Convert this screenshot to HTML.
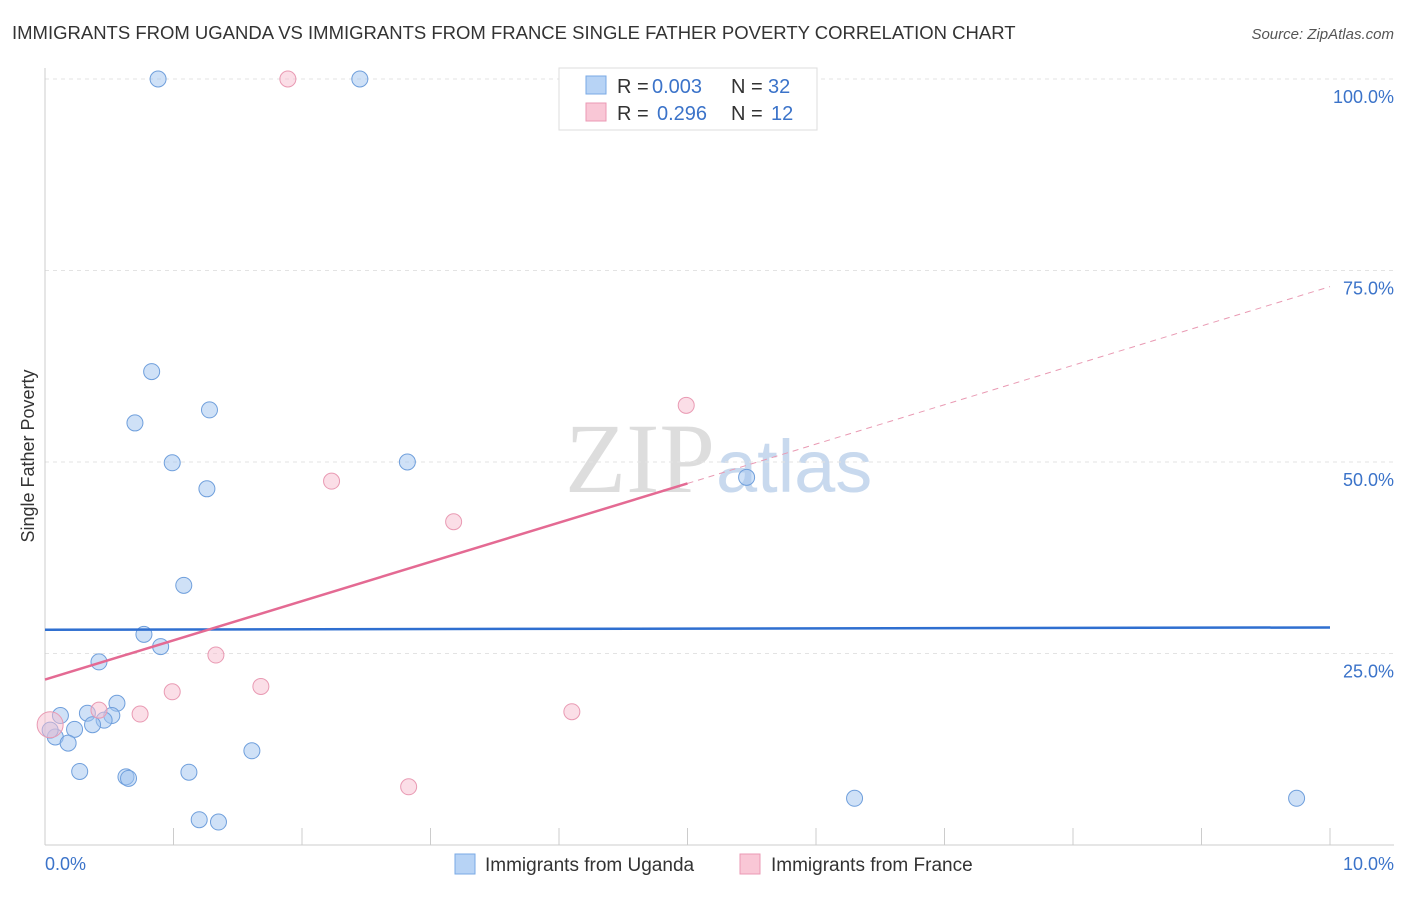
<!DOCTYPE html>
<html><head><meta charset="utf-8"><style>
body{margin:0;background:#fff;font-family:"Liberation Sans",sans-serif;}
</style></head><body>
<svg width="1406" height="892" xmlns="http://www.w3.org/2000/svg">
<text x="12" y="39" font-size="18.5" fill="#333">IMMIGRANTS FROM UGANDA VS IMMIGRANTS FROM FRANCE SINGLE FATHER POVERTY CORRELATION CHART</text>
<text x="1394" y="39" font-size="15" fill="#555" font-style="italic" text-anchor="end">Source: ZipAtlas.com</text>
<text x="715" y="492" font-size="100" fill="#ddd" text-anchor="end" font-family="Liberation Serif,serif">ZIP</text>
<text x="716" y="492" font-size="74" fill="#c8d9ee">atlas</text>
<g id="grid"></g>
<line x1="45" y1="68" x2="45" y2="845" stroke="#ccc"/>
<line x1="45" y1="845" x2="1394" y2="845" stroke="#ccc"/>
<g id="ticks"></g>
<text transform="translate(34,456) rotate(-90)" font-size="18" fill="#333" text-anchor="middle">Single Father Poverty</text>
<text x="45" y="870" font-size="18" fill="#3b73c9">0.0%</text>
<text x="1394" y="870" font-size="18" fill="#3b73c9" text-anchor="end">10.0%</text>
<g id="marks"></g>
<g>
<rect x="559" y="68" width="258" height="62" fill="#fff" stroke="#ddd"/>
<rect x="586" y="76" width="20" height="18" fill="#b7d3f5" stroke="#7aaae5"/>
<rect x="586" y="103" width="20" height="18" fill="#f9c7d6" stroke="#eb9ab4"/>
<text x="617" y="93" font-size="20" fill="#333">R = <tspan fill="#3b73c9" x="652">0.003</tspan><tspan x="731">N = </tspan><tspan fill="#3b73c9" x="768">32</tspan></text>
<text x="617" y="120" font-size="20" fill="#333">R = <tspan fill="#3b73c9" x="657">0.296</tspan><tspan x="731">N = </tspan><tspan fill="#3b73c9" x="771">12</tspan></text>
</g>
<g>
<rect x="455" y="854" width="20" height="20" fill="#b7d3f5" stroke="#7aaae5"/>
<text x="485" y="871" font-size="19" fill="#333">Immigrants from Uganda</text>
<rect x="740" y="854" width="20" height="20" fill="#f9c7d6" stroke="#eb9ab4"/>
<text x="771" y="871" font-size="19" fill="#333">Immigrants from France</text>
</g>
</svg>
<script>
const yTicks=[25,50,75,100];
const ugandaX=[0.88,2.45,0.83,1.28,0.70,0.99,2.82,1.26,5.46,1.08,0.77,0.90,0.42,0.56,0.33,0.52,0.46,0.37,0.23,0.08,0.18,0.04,0.27,0.63,0.65,1.12,1.61,1.20,1.35,6.30,9.74,0.12];
const ugandaY=[100,100,61.8,56.8,55.1,49.9,50.0,46.5,48.0,33.9,27.5,25.9,23.9,18.5,17.2,16.9,16.3,15.7,15.1,14.1,13.3,15.0,9.6,8.9,8.7,9.5,12.3,3.3,3.0,6.1,6.1,16.9];
const franceX=[1.89,4.99,2.23,3.18,1.33,1.68,0.99,0.74,4.10,0.42,2.83,0.04];
const franceY=[100,57.4,47.5,42.2,24.8,20.7,20.0,17.1,17.4,17.6,7.6,15.7];
const ugandaTrend=[28.1,28.4];
const franceTrend=[21.6,47.2,72.9];
const X=v=>45+v*128.5, Y=v=>845-v*7.66;
const NS="http://www.w3.org/2000/svg";
function mk(t,a,p){const e=document.createElementNS(NS,t);for(const k in a)e.setAttribute(k,a[k]);p.appendChild(e);return e;}
const grid=document.getElementById('grid'),ticks=document.getElementById('ticks'),marks=document.getElementById('marks');
yTicks.forEach(v=>{
 const l=mk('line',{x1:45,x2:1394,y1:Y(v),y2:Y(v),stroke:'#e3e3e3','stroke-dasharray':'4,4'},grid);
 
 
 const t=mk('text',{x:1394,y:Y(v)+24,'font-size':18,fill:'#3b73c9','text-anchor':'end'},ticks);
 t.textContent=v.toFixed(1)+'%';
 
 
});
for(let i=1;i<=10;i++){
 const l=mk('line',{x1:X(i),x2:X(i),y1:828,y2:845,stroke:'#ccc'},ticks);
 
 
}
ugandaX.forEach((x,i)=>{
 const c=mk('circle',{cx:X(x),cy:Y(ugandaY[i]),r:8,fill:'rgba(160,196,240,0.5)',stroke:'#6f9fdc','stroke-width':1},marks);
 
 
});
franceX.forEach((x,i)=>{
 const c=mk('circle',{cx:X(x),cy:Y(franceY[i]),r:i==11?13:8,fill:'rgba(248,190,208,0.5)',stroke:'#e99ab3','stroke-width':1},marks);
 
 
});
const ul=mk('line',{x1:X(0),y1:Y(ugandaTrend[0]),x2:X(10),y2:Y(ugandaTrend[1]),stroke:'#2f6fd0','stroke-width':2.5},marks);


const fl=mk('line',{x1:X(0),y1:Y(franceTrend[0]),x2:X(5),y2:Y(franceTrend[1]),stroke:'#e46a93','stroke-width':2.5},marks);


const fd=mk('line',{x1:X(5),y1:Y(franceTrend[1]),x2:X(10),y2:Y(franceTrend[2]),stroke:'#e99ab3','stroke-width':1,'stroke-dasharray':'6,5'},marks);


</script>
</body></html>
